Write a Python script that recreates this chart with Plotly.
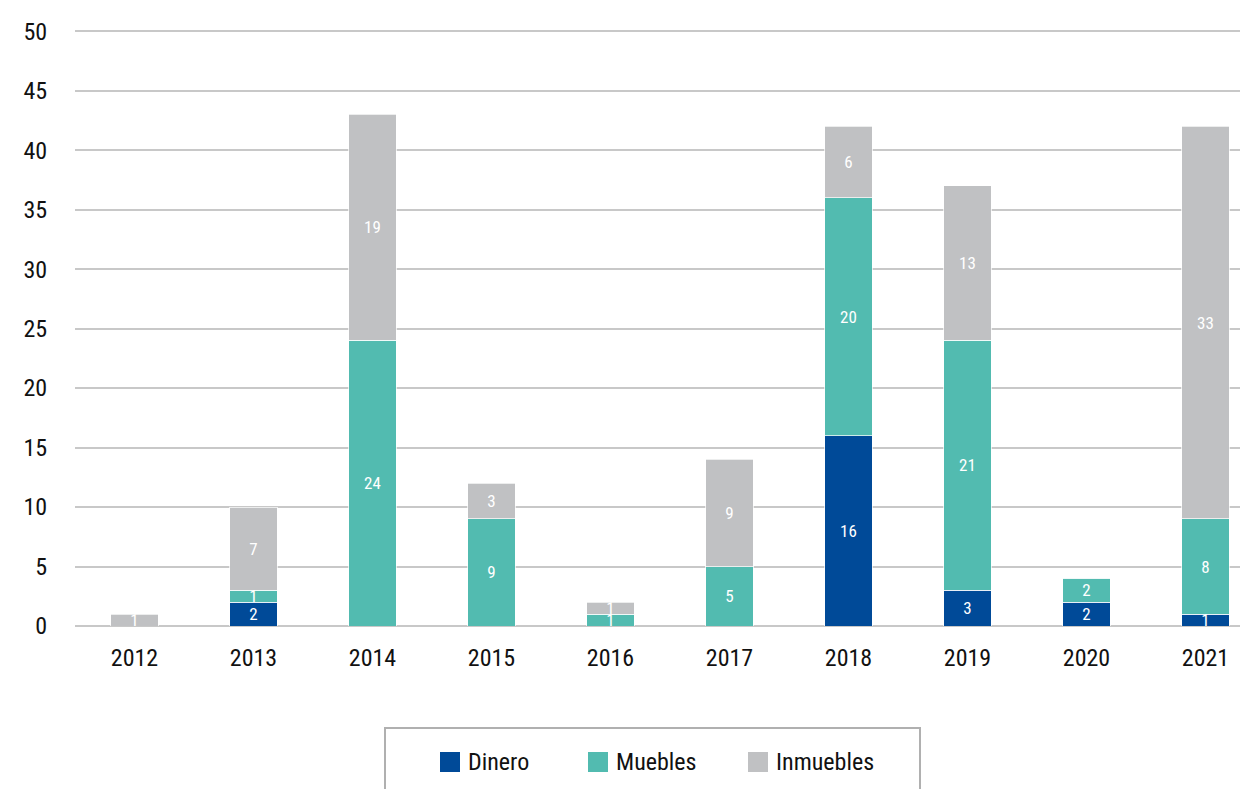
import plotly.graph_objects as go

years = ["2012", "2013", "2014", "2015", "2016", "2017", "2018", "2019", "2020", "2021"]
dinero = [0, 2, 0, 0, 0, 0, 16, 3, 2, 1]
muebles = [0, 1, 24, 9, 1, 5, 20, 21, 2, 8]
inmuebles = [1, 7, 19, 3, 1, 9, 6, 13, 0, 33]
y_ticks = [0, 5, 10, 15, 20, 25, 30, 35, 40, 45, 50]

series = [
    ("Dinero", dinero, "#004a98"),
    ("Muebles", muebles, "#52bbb0"),
    ("Inmuebles", inmuebles, "#c0c1c3"),
]

FONT = "Roboto Condensed, Open Sans Condensed, sans-serif"
W, H = 1240, 789
M_L, M_R, M_T, M_B = 75, 0, 30, 163
PLOT_W = W - M_L - M_R
PLOT_H = H - M_T - M_B


def px_x(px):
    return (px - M_L) / PLOT_W


def px_y(py):
    return (H - M_B - py) / PLOT_H


fig = go.Figure()
for name, vals, color in series:
    fig.add_trace(go.Bar(
        x=years,
        y=vals,
        name=name,
        marker=dict(color=color, line=dict(color="rgba(255,255,255,0.7)", width=1)),
        width=0.4,
        text=[str(v) if v else "" for v in vals],
        textposition="inside",
        insidetextanchor="middle",
        textangle=0,
        textfont=dict(family=FONT, size=17, color="white"),
        showlegend=False,
        hoverinfo="x+y+name",
    ))

# Boxed legend below the chart
shapes = [dict(
    type="rect", xref="paper", yref="paper",
    x0=px_x(385), x1=px_x(920), y0=px_y(800), y1=px_y(728),
    line=dict(color="#b0b0b0", width=2), fillcolor="rgba(0,0,0,0)", layer="above",
)]
annotations = []
legend_pos = [440, 588, 748]
for (name, _, color), lx in zip(series, legend_pos):
    shapes.append(dict(
        type="rect", xref="paper", yref="paper",
        x0=px_x(lx), x1=px_x(lx + 20), y0=px_y(772), y1=px_y(752),
        line=dict(width=0), fillcolor=color,
    ))
    annotations.append(dict(
        xref="paper", yref="paper", x=px_x(lx + 26), y=px_y(762),
        xanchor="left", yanchor="middle", text=name, showarrow=False,
        font=dict(family=FONT, size=24, color="#111111"),
    ))

fig.update_layout(
    width=W, height=H,
    margin=dict(l=M_L, r=M_R, t=M_T, b=M_B),
    barmode="stack",
    plot_bgcolor="white",
    paper_bgcolor="white",
    font=dict(family=FONT, size=24, color="#111111"),
    uniformtext=dict(minsize=17, mode="show"),
    shapes=shapes,
    annotations=annotations,
    xaxis=dict(
        range=[-0.5, 9.29],
        showgrid=False,
        zeroline=False,
        showline=False,
        ticks="outside", ticklen=10, tickcolor="rgba(0,0,0,0)",
        tickfont=dict(family=FONT, size=24, color="#111111"),
    ),
    yaxis=dict(
        range=[0, 50.1],
        tickvals=y_ticks,
        showgrid=True, gridcolor="#c8c8c8", gridwidth=1.5,
        zeroline=True, zerolinecolor="#c8c8c8", zerolinewidth=1.5,
        showline=False,
        ticks="outside", ticklen=22, tickcolor="rgba(0,0,0,0)",
        tickfont=dict(family=FONT, size=24, color="#111111"),
    ),
)

fig.write_html("out.html")
